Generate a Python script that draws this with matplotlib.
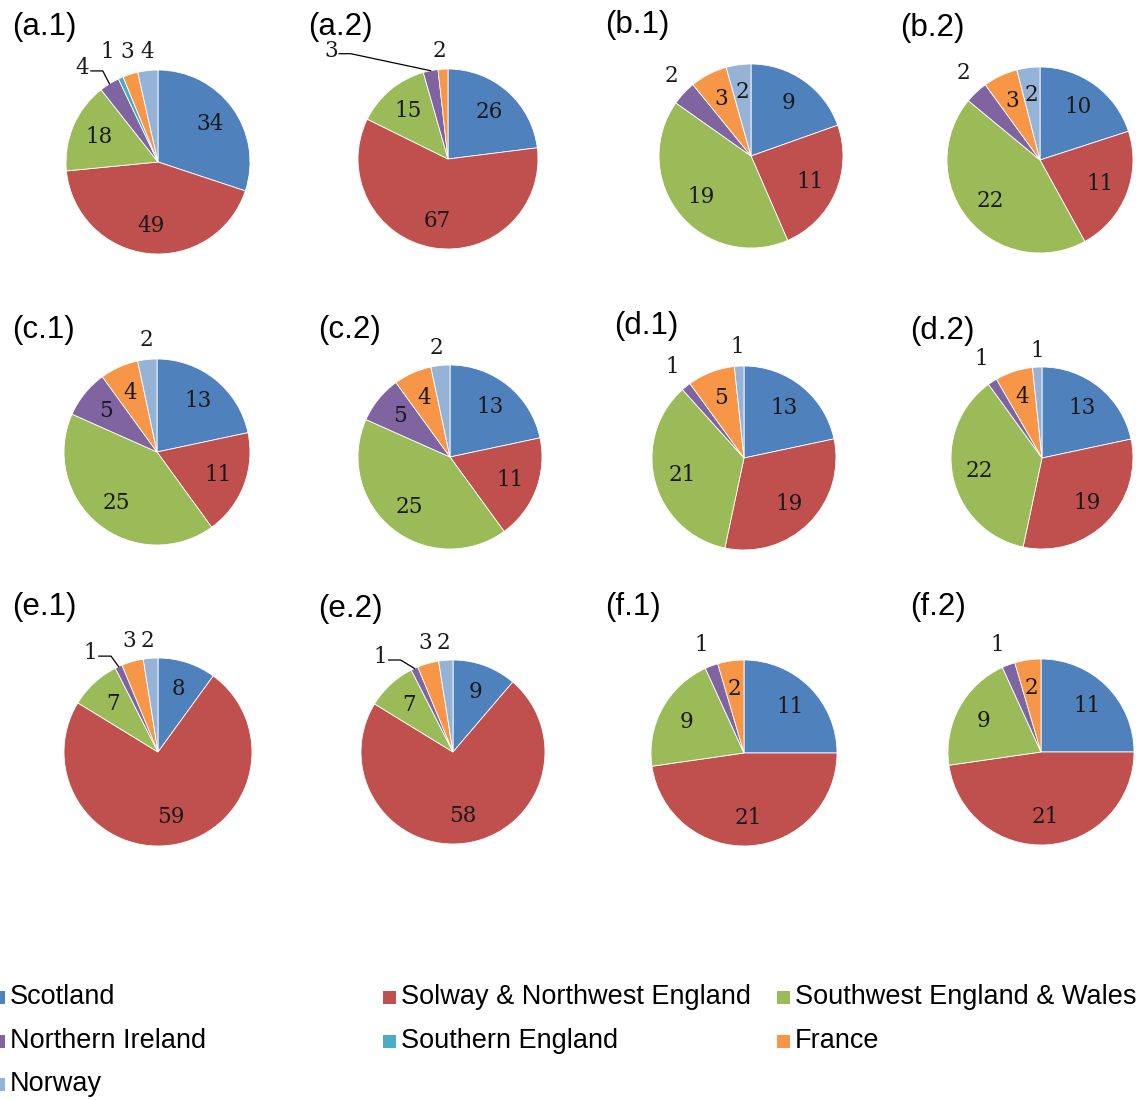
import numpy as np
import matplotlib
matplotlib.use("Agg")
import matplotlib.pyplot as plt
from matplotlib.patches import Rectangle

# ---- data -------------------------------------------------------------
regions = ["Scotland", "Solway & Northwest England", "Southwest England & Wales",
           "Northern Ireland", "Southern England", "France", "Norway"]
panels = ["a.1", "a.2", "b.1", "b.2", "c.1", "c.2",
          "d.1", "d.2", "e.1", "e.2", "f.1", "f.2"]

scotland         = [34, 26,  9, 10, 13, 13, 13, 13,  8,  9, 11, 11]
solway_nw        = [49, 67, 11, 11, 11, 11, 19, 19, 59, 58, 21, 21]
southwest_wales  = [18, 15, 19, 22, 25, 25, 21, 22,  7,  7,  9,  9]
northern_ireland = [ 4,  3,  2,  2,  5,  5,  1,  1,  1,  1,  1,  1]
southern_england = [ 1,  0,  0,  0,  0,  0,  0,  0,  0,  0,  0,  0]
france           = [ 3,  2,  3,  3,  4,  4,  5,  4,  3,  3,  2,  2]
norway           = [ 4,  0,  2,  2,  2,  2,  1,  1,  2,  2,  0,  0]

series = [scotland, solway_nw, southwest_wales, northern_ireland,
          southern_england, france, norway]

colors = ["#4F81BD", "#C0504D", "#9BBB59", "#8064A2",
          "#4BACC6", "#F79646", "#95B3D7"]

# ---- layout (pixels in a 1148 x 1100 canvas) --------------------------
W, H = 1148, 1100
pie_geom = [  # centre x, centre y, radius
    (158, 162, 92), (448, 159, 90), (751, 156, 92), (1040, 160, 93),
    (157, 452, 93), (450, 457, 92), (744, 458, 92), (1042, 458, 91),
    (158, 752, 94), (453, 752, 92), (744, 753, 93), (1041, 752, 93),
]
title_pos = [  # left x, centre y of the panel tag
    (12, 27), (308, 27), (605, 25), (900, 28),
    (12, 330), (318, 330), (614, 326), (910, 331),
    (12, 607), (318, 609), (605, 607), (910, 607),
]
# labels drawn outside the pie: {series index: (x, y) in radius units, leader}
outside = [
    {3: (-0.82, 1.02, True), 4: (-0.55, 1.20, False), 5: (-0.33, 1.20, False), 6: (-0.12, 1.20, False)},
    {3: (-1.30, 1.20, True), 5: (-0.09, 1.20, False)},
    {3: (-0.86, 0.87, False)},
    {3: (-0.82, 0.94, False)},
    {6: (-0.11, 1.20, False)},
    {6: (-0.15, 1.19, False)},
    {3: (-0.78, 0.99, False), 6: (-0.07, 1.21, False)},
    {3: (-0.67, 1.09, False), 6: (-0.05, 1.18, False)},
    {3: (-0.72, 1.05, True), 5: (-0.31, 1.18, False), 6: (-0.11, 1.18, False)},
    {3: (-0.79, 1.03, True), 5: (-0.30, 1.18, False), 6: (-0.10, 1.18, False)},
    {3: (-0.46, 1.16, False)},
    {3: (-0.47, 1.15, False)},
]

value_font = dict(family=["DejaVu Serif"], fontsize=15.5, color="#1a1a1a")
sans = ["Liberation Sans", "DejaVu Sans"]

fig = plt.figure(figsize=(W / 100, H / 100), dpi=100)
fig.patch.set_facecolor("white")

L = 1.45  # half-width of each pie axes in radius units
for i, (cx, cy, r) in enumerate(pie_geom):
    side = 2 * L * r
    ax = fig.add_axes([(cx - L * r) / W, 1 - (cy + L * r) / H, side / W, side / H])

    vals = np.array([s[i] for s in series], dtype=float)
    idx = [k for k in range(len(vals)) if vals[k] > 0]
    wedges, _ = ax.pie(vals[idx], colors=[colors[k] for k in idx], startangle=90,
                       counterclock=False, radius=1.0,
                       wedgeprops=dict(edgecolor="white", linewidth=0.6))
    ax.set_xlim(-L, L)
    ax.set_ylim(-L, L)
    ax.set_aspect("equal")
    ax.axis("off")

    for w, k in zip(wedges, idx):
        mid = np.deg2rad((w.theta1 + w.theta2) / 2)
        label = f"{int(vals[k])}"
        if k in outside[i]:
            ox, oy, leader = outside[i][k]
            ax.text(ox, oy, label, ha="center", va="center", clip_on=False, **value_font)
            if leader:
                rx, ry = np.cos(mid), np.sin(mid)
                ax.plot([ox + 0.09, ox + 0.22, rx], [oy - 0.03, oy - 0.03, ry],
                        color="black", lw=0.9, clip_on=False)
        else:
            ax.text(0.70 * np.cos(mid), 0.70 * np.sin(mid), label,
                    ha="center", va="center", **value_font)

# overlay in pixel coordinates for panel tags and the legend
ov = fig.add_axes([0, 0, 1, 1], zorder=-1)
ov.set_xlim(0, W)
ov.set_ylim(H, 0)
ov.axis("off")

for name, (tx, ty) in zip(panels, title_pos):
    ov.text(tx, ty, f"({name})", ha="left", va="center", family=sans,
            fontsize=22.5, color="black")

legend_cols = [-8, 383, 777]
legend_rows = [997, 1041, 1084]
for n, (name, col) in enumerate(zip(regions, colors)):
    x0 = legend_cols[n % 3]
    y0 = legend_rows[n // 3]
    ov.add_patch(Rectangle((x0, y0 - 6), 13, 13, facecolor=col, edgecolor="none"))
    ov.text(x0 + 18, y0, name, ha="left", va="center", family=sans,
            fontsize=19.5, color="black")

fig.savefig("out.png", dpi=100, facecolor="white")
